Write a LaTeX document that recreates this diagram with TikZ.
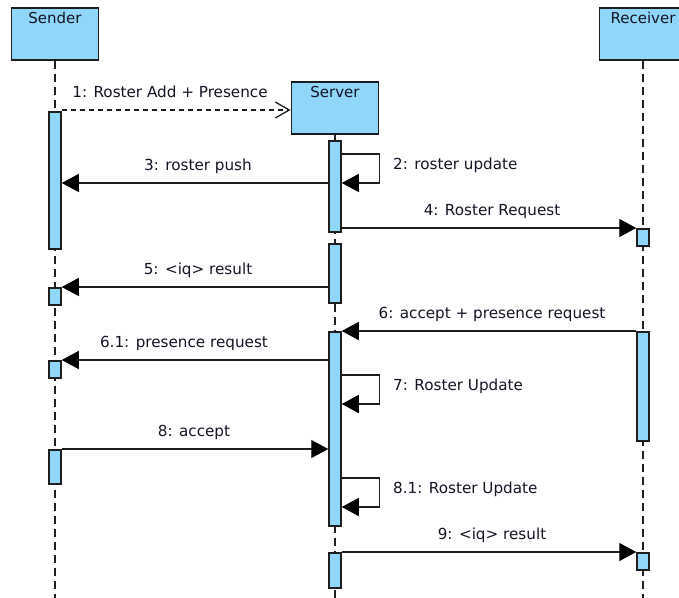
\documentclass[tikz,border=0pt]{standalone}
\usepackage{fontspec}
\setmainfont{DejaVu Sans}
\usetikzlibrary{arrows.meta,calc}
\definecolor{lb}{RGB}{143,214,249}
\definecolor{ink}{RGB}{30,30,30}
\definecolor{txt}{RGB}{20,20,36}
\begin{document}
\begin{tikzpicture}[x=1pt,y=-1pt,
  head/.style={draw=ink, fill=lb, line width=1.8pt, minimum width=87pt, minimum height=52pt, inner sep=0, anchor=north},
  headlbl/.style={font=\fontsize{15}{17}\selectfont, text=txt, anchor=north, inner sep=0, yshift=-5pt},
  act/.style={draw=ink, fill=lb, line width=1.5pt, minimum width=12pt, inner sep=0, anchor=north},
  life/.style={draw=ink, line width=1.3pt, dash pattern=on 8pt off 5pt},
  msg/.style={draw=ink, line width=1.3pt, -{Triangle[length=17pt,width=18pt,color=black]}},
  async/.style={draw=ink, line width=1.3pt, dash pattern=on 5pt off 4pt, -{Straight Barb[length=14pt,width=16pt,line width=1.3pt]}},
  lbl/.style={font=\fontsize{15.2}{17}\selectfont, text=txt, anchor=base, inner sep=0},
  lblw/.style={lbl, anchor=base west}]
\clip (0,0) rectangle (679,597);
\fill[white] (0,0) rectangle (679,597);

% participants
\node[head] (sender) at (55,7) {};
\node[headlbl] at (sender.north) {Sender};
\node[head] (server) at (335,81) {};
\node[headlbl] at (server.north) {Server};
\node[head] (receiver) at (643,7) {};
\node[headlbl] at (receiver.north) {Receiver};

% lifelines
\coordinate (bottom) at (0,600);
\draw[life] (sender.south) -- (sender.south |- bottom);
\draw[life] (server.south) -- (server.south |- bottom);
\draw[life] (receiver.south) -- (receiver.south |- bottom);

% activation bars
\node[act, minimum height=137pt] (snd1) at (55,111) {};
\node[act, minimum height=17pt]  (snd2) at (55,287) {};
\node[act, minimum height=17pt]  (snd3) at (55,360) {};
\node[act, minimum height=34pt]  (snd4) at (55,449) {};
\node[act, minimum height=91pt]  (srv1) at (335,140) {};
\node[act, minimum height=59pt]  (srv2) at (335,243) {};
\node[act, minimum height=194pt] (srv3) at (335,331) {};
\node[act, minimum height=35pt]  (srv4) at (335,552) {};
\node[act, minimum height=17pt]  (rcv1) at (643,228) {};
\node[act, minimum height=109pt] (rcv2) at (643,331) {};
\node[act, minimum height=17pt]  (rcv3) at (643,552) {};

% message heights
\coordinate (m1) at (0,110);
\coordinate (m2a) at (0,154);
\coordinate (m2b) at (0,183);
\coordinate (m3) at (0,183);
\coordinate (m4) at (0,228);
\coordinate (m5) at (0,287);
\coordinate (m6) at (0,331);
\coordinate (m61) at (0,360);
\coordinate (m7a) at (0,375);
\coordinate (m7b) at (0,404);
\coordinate (m8) at (0,449);
\coordinate (m81a) at (0,478);
\coordinate (m81b) at (0,507);
\coordinate (m9) at (0,552);

% messages
\draw[async] (snd1.east |- m1) -- (server.west |- m1);
\draw[msg] (srv1.east |- m2a) -- ++(38,0) |- (srv1.east |- m2b);
\draw[msg] (srv1.west |- m3) -- (snd1.east |- m3);
\draw[msg] (srv1.east |- m4) -- (rcv1.west |- m4);
\draw[msg] (srv2.west |- m5) -- (snd2.east |- m5);
\draw[msg] (rcv2.west |- m6) -- (srv3.east |- m6);
\draw[msg] (srv3.west |- m61) -- (snd3.east |- m61);
\draw[msg] (srv3.east |- m7a) -- ++(38,0) |- (srv3.east |- m7b);
\draw[msg] (snd4.east |- m8) -- (srv3.west |- m8);
\draw[msg] (srv3.east |- m81a) -- ++(38,0) |- (srv3.east |- m81b);
\draw[msg] (srv4.east |- m9) -- (rcv3.west |- m9);

% message labels
\node[lbl]  (l1)  at (170,97)  {1: Roster Add + Presence};
\node[lblw] (l2)  at (393,169) {2: roster update};
\node[lbl]  (l3)  at (198,170) {3: roster push};
\node[lbl]  (l4)  at (492,215) {4: Roster Request};
\node[lbl]  (l5)  at (198,274) {5: <iq> result};
\node[lbl]  (l6)  at (492,318) {6: accept + presence request};
\node[lbl]  (l61) at (184,347) {6.1: presence request};
\node[lblw] (l7)  at (393,390) {7: Roster Update};
\node[lbl]  (l8)  at (194,436) {8: accept};
\node[lblw] (l81) at (393,493) {8.1: Roster Update};
\node[lbl]  (l9)  at (492,539) {9: <iq> result};
\end{tikzpicture}
\end{document}
